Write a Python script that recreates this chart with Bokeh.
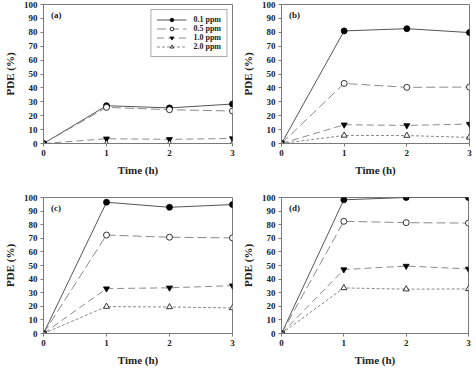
from bokeh.plotting import figure
from bokeh.layouts import column, row
from bokeh.models import Range1d, FixedTicker, Label, Legend
from bokeh.embed import file_html
from bokeh.resources import INLINE

# Sampling times (h)
time_h = [0, 1, 2, 3]

# Photocatalytic degradation efficiency (%) per panel, per dose
panel_a = {
    "0.1 ppm": [0, 27.2, 25.6, 28.4],
    "0.5 ppm": [0, 26.0, 24.3, 23.4],
    "1.0 ppm": [0, 3.4, 3.0, 3.6],
    "2.0 ppm": [0, 0.0, 0.0, 0.0],
}
panel_b = {
    "0.1 ppm": [0, 81.0, 82.6, 79.8],
    "0.5 ppm": [0, 43.2, 40.4, 40.6],
    "1.0 ppm": [0, 13.5, 13.0, 14.0],
    "2.0 ppm": [0, 5.8, 5.7, 4.4],
}
panel_c = {
    "0.1 ppm": [0, 96.5, 92.8, 94.8],
    "0.5 ppm": [0, 72.4, 70.8, 70.3],
    "1.0 ppm": [0, 33.0, 33.6, 35.2],
    "2.0 ppm": [0, 19.8, 19.5, 18.8],
}
panel_d = {
    "0.1 ppm": [0, 98.3, 100.0, 100.0],
    "0.5 ppm": [0, 82.5, 81.5, 81.2],
    "1.0 ppm": [0, 47.0, 49.6, 47.5],
    "2.0 ppm": [0, 33.5, 32.6, 32.8],
}

x_ticks = [0, 1, 2, 3]
y_ticks = [0, 10, 20, 30, 40, 50, 60, 70, 80, 90, 100]

FONT = "Liberation Serif"
AXIS_GRAY = "#7a7a7a"

# line dash, marker, marker fill and line colour for each dose
styles = {
    "0.1 ppm": ("solid", "circle", "black", "#555555"),
    "0.5 ppm": ("9 4", "circle", "white", "#8a8a8a"),
    "1.0 ppm": ("7 4", "inverted_triangle", "black", "#8a8a8a"),
    "2.0 ppm": ("3 2", "triangle", "white", "#8a8a8a"),
}


def make_panel(data, tag, width, height, borders, legend=False):
    left, right, top, bottom = borders
    p = figure(width=width, height=height, output_backend="svg",
               toolbar_location=None,
               x_range=Range1d(0, 3), y_range=Range1d(0, 100),
               min_border_left=left, min_border_right=right,
               min_border_top=top, min_border_bottom=bottom)
    p.background_fill_color = "white"
    p.border_fill_color = "white"
    p.outline_line_color = AXIS_GRAY
    p.outline_line_width = 1
    p.grid.visible = False

    p.xaxis.ticker = FixedTicker(ticks=x_ticks)
    p.yaxis.ticker = FixedTicker(ticks=y_ticks)
    p.xaxis.axis_label = "Time (h)"
    p.yaxis.axis_label = "PDE (%)"
    for ax in (p.xaxis, p.yaxis):
        ax.axis_line_color = AXIS_GRAY
        ax.major_tick_line_color = AXIS_GRAY
        ax.minor_tick_line_color = None
        ax.major_tick_out = 3
        ax.major_tick_in = 0
        ax.major_label_text_font = FONT
        ax.major_label_text_font_style = "bold"
        ax.major_label_text_font_size = "9px"
        ax.major_label_text_color = "#222222"
        ax.axis_label_text_font = FONT
        ax.axis_label_text_font_style = "bold"
        ax.axis_label_text_font_size = "11px"
        ax.axis_label_text_color = "#222222"
        ax.major_label_standoff = 3
    p.xaxis.axis_label_standoff = 5
    p.yaxis.axis_label_standoff = 5

    items = []
    for name, ys in data.items():
        dash, marker, fill, lcol = styles[name]
        ln = p.line(time_h, ys, line_color=lcol, line_width=1, line_dash=dash)
        sc = p.scatter(time_h, ys, marker=marker, size=6,
                       fill_color=fill, line_color="black", line_width=0.8)
        items.append((name, [ln, sc]))

    if legend:
        lg = Legend(items=items, location="top_right")
        lg.margin = 5
        lg.padding = 5
        lg.spacing = 0
        lg.glyph_width = 30
        lg.glyph_height = 9
        lg.label_height = 9
        lg.label_standoff = 7
        lg.label_text_font = FONT
        lg.label_text_font_style = "bold"
        lg.label_text_font_size = "8px"
        lg.label_text_color = "#222222"
        lg.border_line_color = "#555555"
        lg.border_line_width = 1
        lg.background_fill_alpha = 1.0
        p.add_layout(lg, "center")

    p.add_layout(Label(x=0.12, y=92.5, text=tag, text_font=FONT,
                       text_font_style="bold", text_font_size="9px",
                       text_color="#222222", text_baseline="middle"))
    return p


pa = make_panel(panel_a, "(a)", 238, 184, (40, 6, 4, 41), legend=True)
pb = make_panel(panel_b, "(b)", 238, 184, (39, 7, 4, 41))
pc = make_panel(panel_c, "(c)", 238, 184, (39, 6, 13, 31))
pd = make_panel(panel_d, "(d)", 238, 184, (39, 8, 13, 32))

layout = column(row(pa, pb, spacing=0), row(pc, pd, spacing=0), spacing=0)

open("out.html", "w").write(file_html(layout, INLINE))
